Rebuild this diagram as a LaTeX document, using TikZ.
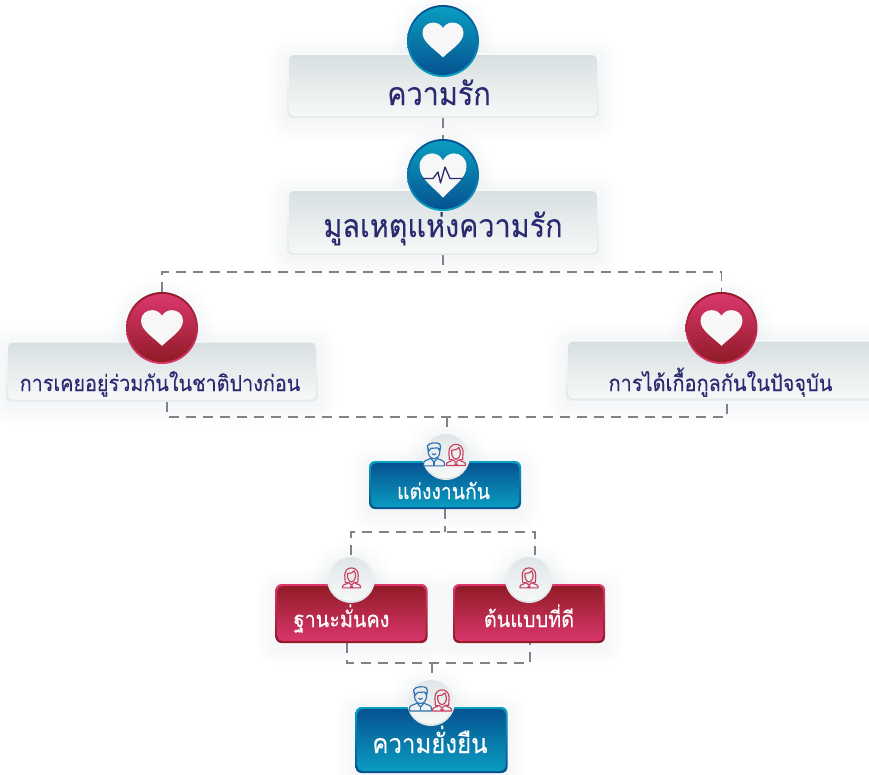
\documentclass[tikz,border=0pt]{standalone}
\usepackage{fontspec}
\newfontfamily\thaifont[Script=Thai,FakeStretch=0.9,FakeBold=0.2]{Loma}
\usetikzlibrary{backgrounds,calc}
\definecolor{ink}{HTML}{2B2A70}
\definecolor{blueD}{HTML}{06508F}
\definecolor{blueL}{HTML}{0A9FC2}
\definecolor{redD}{HTML}{8E1A24}
\definecolor{redL}{HTML}{DC386E}
\definecolor{grayT}{HTML}{D7DFE1}
\definecolor{grayB}{HTML}{F8F9F9}
\definecolor{dashc}{HTML}{808285}
\definecolor{manc}{HTML}{2F70B0}
\definecolor{womanc}{HTML}{C8405F}
\definecolor{shadowc}{HTML}{7F90A8}
\newcommand{\boxshadow}[1]{%
  \foreach \g in {1,...,20}{%
    \fill[shadowc,opacity=.0055,rounded corners=\g pt+5pt]
      ([shift={(-\g pt,\g pt-4pt)}]#1.north west) rectangle ([shift={(\g pt,-\g pt-4pt)}]#1.south east);}}
\newcommand{\discshadow}[1]{%
  \path (#1.east); \pgfgetlastxy{\ax}{\ay}\path (#1.center); \pgfgetlastxy{\bx}{\by}%
  \pgfmathsetlengthmacro{\rr}{\ax-\bx}%
  \foreach \g in {1,...,18}{%
    \fill[shadowc,opacity=.0055] ([yshift=-3pt]#1.center) circle[radius=\rr+\g pt];}}
\tikzset{
  x=1pt,y=-1pt,
  plate/.style args={#1/#2/#3/#4}{rectangle,rounded corners=6pt,inner sep=0pt,minimum height=#3,
    text depth=0pt,text height=#4,top color=#2,bottom color=#1,
    path picture={\shade[top color=#1,bottom color=#2,rounded corners=5pt]
      ([shift={(2pt,-2pt)}]path picture bounding box.north west) rectangle
      ([shift={(-2pt,2pt)}]path picture bounding box.south east);}},
  graybox/.style args={#1/#2}{plate=grayT/grayB/#1/#2,minimum width=312pt,text=ink,
    top color=grayB,bottom color=grayT!65!white},
  bluebox/.style args={#1/#2}{plate=blueD/blueL/#1/#2,minimum width=152pt,text=white},
  redbox/.style args={#1/#2}{plate=redD/redL/#1/#2,minimum width=152pt,text=white},
  disc/.style args={#1/#2/#3}{circle,inner sep=0pt,minimum size=#3,top color=#2,bottom color=#1,
    path picture={\shade[top color=#1,bottom color=#2]
      (path picture bounding box.center) circle[radius=#3/2-2pt];}},
  bluedisc/.style={disc=blueL/blueD/72pt},
  reddisc/.style={disc=redL/redD/72pt},
  whitedisc/.style={disc=grayT!80/grayB/48pt},
  link/.style={draw=dashc,line width=1.5pt,dash pattern=on 10pt off 7pt},
  loveheart/.pic={\fill[#1] (0,.85) .. controls (-.4,.45) and (-1,.12) .. (-1,-.35)
     .. controls (-1,-.68) and (-.72,-.85) .. (-.47,-.85)
     .. controls (-.27,-.85) and (-.1,-.75) .. (0,-.58)
     .. controls (.1,-.75) and (.27,-.85) .. (.47,-.85)
     .. controls (.72,-.85) and (1,-.68) .. (1,-.35)
     .. controls (1,.12) and (.4,.45) .. (0,.85) -- cycle;},
  manicon/.pic={\begin{scope}[draw=manc,line width=1.15pt,line join=round]
     \draw (-6,-7) -- (-6,-2) .. controls (-5.5,3) and (-2,4.5) .. (0,4.5) .. controls (2,4.5) and (5.5,3) .. (6,-2) -- (6,-7);
     \draw (-6,-5) -- (-7,-9) .. controls (-5,-13) and (4,-13) .. (6,-11) -- (7,-8) -- (6,-4) -- (4,-7) -- (-3,-6.5) -- (-6,-3);
     \draw (-11,12) -- (-11,9) .. controls (-11,6) and (-6,6) .. (-3.5,4) -- (0,8) -- (3.5,4) .. controls (6,6) and (11,6) .. (11,9) -- (11,12) -- cycle;
     \draw (0,8) -- (0,12);
     \draw (-2,-1) .. controls (-1,1) and (1,1) .. (2,-1);
     \end{scope}},
  womanicon/.pic={\begin{scope}[draw=womanc,line width=1.15pt,line join=round]
     \draw (-7,5) -- (-7.5,-3) .. controls (-7.5,-14) and (7.5,-14) .. (7.5,-3) -- (7,5) -- (4,5);
     \draw (-7,5) -- (-4,5);
     \draw (-4.5,-5) .. controls (-1,-5) and (2,-6) .. (3,-8) .. controls (3.5,-6) and (4,-5) .. (4.5,-4) -- (4.5,-1) .. controls (4,2.5) and (1.5,4.5) .. (0,4.5) .. controls (-1.5,4.5) and (-4,2.5) .. (-4.5,-1) -- cycle;
     \draw (-10,11) -- (-10,9.5) .. controls (-10,7) and (-5,7) .. (-3,5) -- (0,8) -- (3,5) .. controls (5,7) and (10,7) .. (10,9.5) -- (10,11) -- cycle;
     \draw (-1.5,9) -- (1.5,11) (1.5,9) -- (-1.5,11);
     \end{scope}},
  every node/.append style={font=\thaifont},
}
\newcommand{\fs}[1]{\thaifont\fontsize{#1}{#1}\selectfont}
\begin{document}
\begin{tikzpicture}
\useasboundingbox (0,0) rectangle (869,774);
\clip (0,0) rectangle (869,774);
% plates
\node[graybox=65pt/39pt,font=\fs{32}] (love) at (443,85.5) {\hspace*{-8pt}ความรัก};
\node[graybox=66pt/30pt,font=\fs{32}] (cause) at (443,222) {มูลเหตุแห่งความรัก};
\node[graybox=61pt/40pt,font=\fs{22}] (past) at (162,371) {\hspace*{-4pt}การเคยอยู่ร่วมกันในชาติปางก่อน};
\node[graybox=61pt/42pt,font=\fs{22.2}] (now) at (722,370) {\hspace*{-3pt}การได้เกื้อกูลกันในปัจจุบัน};
\node[bluebox=48pt/28pt,font=\fs{21.5}] (wed) at (445,485) {\hspace*{-3pt}แต่งงานกัน};
\node[redbox=59pt/27pt,font=\fs{22}] (stable) at (351.5,613.5) {\hspace*{-20pt}ฐานะมั่นคง};
\node[redbox=59pt/27pt,font=\fs{22}] (model) at (529,613.5) {ต้นแบบที่ดี};
\node[bluebox=66pt/26pt,font=\fs{26.7}] (last) at (431.5,740) {\hspace*{-3pt}ความยั่งยืน};
% discs
\node[bluedisc] (dlove) at (443,41) {};
\node[bluedisc] (dcause) at (443,175) {};
\node[reddisc] (dpast) at (162,328) {};
\node[reddisc] (dnow) at (721.5,328) {};
\node[whitedisc] (dwed) at (446,456) {};
\node[whitedisc] (dstable) at (351,579) {};
\node[whitedisc] (dmodel) at (529,579) {};
\node[whitedisc] (dlast) at (431,702) {};
% icons
\pic[scale=20.5] at (443,40) {loveheart=white!94!gray};
\pic[xscale=23.5,yscale=26] at (443,175.5) {loveheart=white!94!gray};
\draw[ink,line width=1.3pt,line join=round] (423,178.5) -- (433,178.5) -- (438,172) -- (440.5,183) -- (445,167) -- (450,178.5) -- (463,178.5);
\pic[scale=21] at (162,328) {loveheart=white!94!gray};
\pic[scale=21] at (721.5,328) {loveheart=white!94!gray};
\pic[scale=.95] at (434,454.5) {manicon};
\pic[scale=.95] at (456,455) {womanicon};
\pic[scale=.9] at (351.5,578) {womanicon};
\pic[scale=.9] at (529,578) {womanicon};
\pic[scale=1] at (420.5,699) {manicon};
\pic[scale=.95] at (442,700.5) {womanicon};
% junctions
\coordinate (jA) at (443,272);
\coordinate (jB1) at (167,417);
\coordinate (jB2) at (727,417);
\coordinate (jB) at (447,417);
\coordinate (jC) at (445,532);
\coordinate (jC1) at (351,532);
\coordinate (jC2) at (535,532);
\coordinate (jD1) at (347,663);
\coordinate (jD2) at (530,663);
\coordinate (jD) at (432,663);
\begin{scope}[on background layer]
  \foreach \n in {love,cause,past,now,wed,stable,model,last}{\boxshadow{\n}}
  \foreach \n in {dlove,dcause,dpast,dnow,dwed,dstable,dmodel,dlast}{\discshadow{\n}}
  \draw[link] (love.south) -- (dcause.north);
  \draw[link] (cause.south) -- (jA);
  \draw[link] (dpast.north) -- (dpast.north |- jA) -- (dnow.north |- jA) -- (dnow.north);
  \draw[link] (jB1 |- past.south) -- (jB1) -- (jB2) -- (jB2 |- now.south);
  \draw[link] (jB) -- (jB |- dwed.north);
  \draw[link] (wed.south) -- (jC);
  \draw[link] (jC1 |- dstable.north) -- (jC1) -- (jC2) -- (jC2 |- dmodel.north);
  \draw[link] (jD1 |- stable.south) -- (jD1) -- (jD2) -- (jD2 |- model.south);
  \draw[link] (jD) -- (jD |- dlast.north);
\end{scope}
\end{tikzpicture}
\end{document}
